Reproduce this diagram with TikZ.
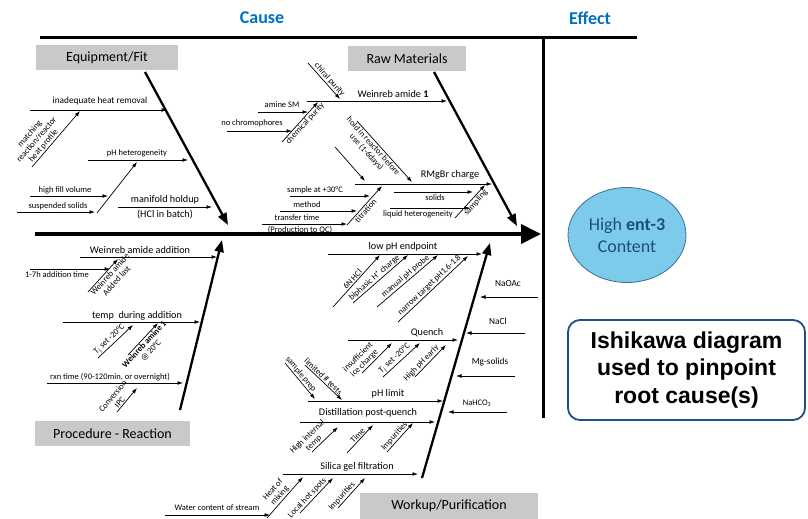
\documentclass[tikz,border=0pt]{standalone}
\usepackage{fontspec}
\setmainfont{Carlito}
\newfontfamily\arialfont{Liberation Sans}
\usetikzlibrary{arrows.meta,shapes.geometric}
\definecolor{causeblue}{HTML}{0070C0}
\definecolor{catgray}{HTML}{C9C9C9}
\definecolor{ellfill}{HTML}{7CCBEB}
\definecolor{ellline}{HTML}{3E6E8E}
\definecolor{elltext}{HTML}{1F4E79}
\definecolor{boxline}{HTML}{1F4E8C}
\begin{document}
\begin{tikzpicture}[x=1pt,y=-1pt,
  sub/.style={line width=0.7pt,-{Latex[length=5.5pt,width=3.8pt]}},
  bone/.style={line width=2.3pt,-{Triangle[length=12pt,width=9pt]}},
  sm/.style={font=\fontsize{8.5}{9}\selectfont,inner sep=1pt},
  ms/.style={font=\fontsize{9.3}{10}\selectfont,inner sep=1pt},
  md/.style={font=\fontsize{10.2}{11}\selectfont,inner sep=1pt},
  cat/.style={fill=catgray,font=\fontsize{14}{15}\selectfont,minimum height=25pt,inner sep=0pt},
  ttl/.style={font=\fontsize{18}{20}\selectfont\bfseries,text=causeblue}]
\useasboundingbox (0,0) rectangle (808,519);

% titles and frame
\node[ttl] (cause) at (262,18) {Cause};
\node[ttl] (effect) at (590,18) {Effect};
\draw[line width=3pt] (40,38) coordinate (hl) -- (637,38) coordinate (hr);
\draw[line width=3pt] (543,38) coordinate (vt) -- (543,418) coordinate (vb);
\draw[line width=4pt,-{Triangle[length=20pt,width=19pt]}] (35,234) coordinate (sp1) -- (541,234) coordinate (sp2);

% effect
\node[ellipse,draw=ellline,line width=0.8pt,fill=ellfill,minimum width=118pt,minimum height=95pt,
  text=elltext,align=center,font=\fontsize{18}{22}\selectfont,inner sep=0pt] (eff) at (627,235)
  {High \textbf{ent-3}\\Content};
\node[draw=boxline,line width=1.8pt,rounded corners=12pt,minimum width=237pt,minimum height=100pt,
  align=center,font=\arialfont\bfseries\fontsize{23}{27.5}\selectfont] (note) at (686.5,370)
  {Ishikawa diagram\\used to pinpoint\\root cause(s)};

% category boxes
\node[cat,minimum width=142pt] (equip) at (107,57.5) {Equipment/Fit};
\node[cat,minimum width=118pt] (raw) at (407,58.5) {Raw Materials};
\node[cat,minimum width=155pt] (proc) at (112.5,433.5) {Procedure - Reaction};
\node[cat,minimum width=178pt,minimum height=26pt] (work) at (449,506) {Workup/Purification};

% main bones
\draw[bone] (145,72) coordinate (be1) -- (228,225) coordinate (be2);
\draw[bone] (434,72) coordinate (br1) -- (517,226) coordinate (br2);
\draw[bone] (180,410) coordinate (bp1) -- (222,240) coordinate (bp2);
\draw[bone] (422,478) coordinate (bw1) -- (490,243) coordinate (bw2);

% ===== Equipment/Fit =====
\draw[sub] (30,110) coordinate (e1a) -- (167,110) coordinate (e1b);
\node[ms] (t_e1) at (100,101) {inadequate heat removal};
\draw[sub] (32,167) coordinate (e2a) -- (80,111) coordinate (e2b)
  node[sm,sloped,above,pos=0.32,align=center] (t_e2) {matching\\reaction/reactor\\heat profile};
\draw[sub] (88,160) coordinate (e3a) -- (188,160) coordinate (e3b);
\node[sm] (t_e3) at (137,153) {pH heterogeneity};
\draw[sub] (97,213) coordinate (e4a) -- (137,162) coordinate (e4b);
\draw[sub] (30,196) coordinate (e5a) -- (108,196) coordinate (e5b);
\node[sm] (t_e5) at (65,190) {high fill volume};
\draw[sub] (17,212) coordinate (e6a) -- (95,212) coordinate (e6b);
\node[sm] (t_e6) at (58,206) {suspended solids};
\draw[sub] (118,207) coordinate (e7a) -- (212,207) coordinate (e7b);
\node[md] (t_e7) at (165,200) {manifold holdup};
\node[md] (t_e7b) at (165,214) {(HCl in batch)};

% ===== Raw Materials =====
\draw[sub] (307,101) coordinate (r1a) -- (447,101) coordinate (r1b);
\node[md] (t_r1) at (393,93.5) {Weinreb amide \textbf{1}};
\draw[sub] (308,63) coordinate (r2a) -- (340,99) coordinate (r2b)
  node[sm,sloped,above,pos=0.56] (t_r2) {chiral purity};
\draw[sub] (282,142) coordinate (r3a) -- (318,102) coordinate (r3b)
  node[sm,sloped,below,pos=0.54] (t_r3) {chemical purity};
\draw[sub] (258,112) coordinate (r4a) -- (308,112) coordinate (r4b);
\node[sm] (t_r4) at (282,105) {amine SM};
\draw[sub] (227,131) coordinate (r5a) -- (292,131) coordinate (r5b);
\node[sm] (t_r5) at (252,123) {no chromophores};
\draw[sub] (355,184) coordinate (r6a) -- (492,184) coordinate (r6b);
\node[md] (t_r6) at (450,175) {RMgBr charge};
\draw[sub] (357,121) coordinate (r7a) -- (412,182) coordinate (r7b)
  node[sm,sloped,below,pos=0.36,align=center] (t_r7) {hold in reactor before\\use (1-6days)};
\draw[sub] (335,147) coordinate (r8a) -- (365,181) coordinate (r8b);
\draw[sub] (347,225) coordinate (r9a) -- (382,186) coordinate (r9b)
  node[sm,sloped,below,pos=0.44] (t_r9) {titration};
\draw[sub] (290,196) coordinate (r10a) -- (370,196) coordinate (r10b);
\node[sm] (t_r10) at (315,190) {sample at +30°C};
\draw[sub] (280,211) coordinate (r11a) -- (357,211) coordinate (r11b);
\node[sm] (t_r11) at (307,205) {method};
\draw[sub] (262,224) coordinate (r12a) -- (347,224) coordinate (r12b);
\node[sm] (t_r12) at (297,218) {transfer time};
\node[sm] (t_r12b) at (300,229.5) {(Production to QC)};
\draw[sub] (394,192) coordinate (r13a) -- (473,192) coordinate (r13b);
\node[sm] (t_r13) at (435,198) {solids};
\draw[sub] (390,208) coordinate (r14a) -- (470,208) coordinate (r14b);
\node[sm] (t_r14) at (418,214) {liquid heterogeneity};
\draw[sub] (455,218) coordinate (r15a) -- (485,185) coordinate (r15b)
  node[sm,sloped,below,pos=0.57] (t_r15) {sampling};

% ===== Procedure - Reaction =====
\draw[sub] (80,257) coordinate (p1a) -- (217,257) coordinate (p1b);
\node[md] (t_p1) at (140,250) {Weinreb amide addition};
\draw[sub] (30,269) coordinate (p2a) -- (110,269) coordinate (p2b);
\node[sm] (t_p2) at (57,275) {1-7h addition time};
\draw[sub] (88,292) coordinate (p3a) -- (118,259) coordinate (p3b)
  node[sm,sloped,below,pos=0.62,align=center] (t_p3) {Weinreb amide\\Added last};
\draw[sub] (63,322) coordinate (p4a) -- (200,322) coordinate (p4b);
\node[md] (t_p4) at (137,316) {temp\ \ during addition};
\draw[sub] (98,358) coordinate (p5a) -- (133,325) coordinate (p5b)
  node[sm,sloped,above,pos=0.44] (t_p5) {T\textsubscript{j} set -20°C};
\draw[sub] (128,355) coordinate (p6a) -- (158,323) coordinate (p6b)
  node[sm,sloped,below,pos=0.43,align=center] (t_p6) {\textbf{Weinreb amine 1}\\@ 20°C};
\draw[sub] (47,383) coordinate (p7a) -- (183,383) coordinate (p7b);
\node[sm] (t_p7) at (110,377) {rxn time (90-120min, or overnight)};
\draw[sub] (117,412) coordinate (p8a) -- (137,388) coordinate (p8b)
  node[sm,sloped,above,pos=0.3,align=center] (t_p8) {Conversion\\IPC};

% ===== Workup/Purification =====
\draw[sub] (328,254) coordinate (w1a) -- (482,254) coordinate (w1b);
\node[md] (t_w1) at (403,247) {low pH endpoint};
\draw[sub] (333,307) coordinate (w2a) -- (380,255) coordinate (w2b)
  node[sm,sloped,above,pos=0.48] (t_w2) {6N HCl};
\draw[sub] (353,303) coordinate (w3a) -- (408,255) coordinate (w3b)
  node[sm,sloped,above,pos=0.45] (t_w3) {biphasic H\textsuperscript{+} charge};
\draw[sub] (377,307) coordinate (w4a) -- (438,255) coordinate (w4b)
  node[sm,sloped,above,pos=0.52] (t_w4) {manual pH probe};
\draw[sub] (398,322) coordinate (w5a) -- (468,256) coordinate (w5b)
  node[sm,sloped,above,pos=0.5] (t_w5) {narrow target pH1.6-1.8};
\draw[sub] (538,297) coordinate (w6a) -- (480,297) coordinate (w6b);
\node[ms] (t_w6) at (508,284) {NaOAc};
\draw[sub] (525,333) coordinate (w7a) -- (466,333) coordinate (w7b);
\node[ms] (t_w7) at (498,321) {NaCl};
\draw[sub] (515,376) coordinate (w8a) -- (456,376) coordinate (w8b);
\node[ms] (t_w8) at (490,362) {Mg-solids};
\draw[sub] (507,412) coordinate (w9a) -- (448,412) coordinate (w9b);
\node[sm] (t_w9) at (477,403) {NaHCO\textsubscript{3}};
\draw[sub] (348,340) coordinate (w10a) -- (458,340) coordinate (w10b);
\node[md] (t_w10) at (427,333) {Quench};
\draw[sub] (362,373) coordinate (w11a) -- (392,343) coordinate (w11b)
  node[sm,sloped,above,pos=0.2,align=center] (t_w11) {insufficient\\ice charge};
\draw[sub] (383,377) coordinate (w12a) -- (420,343) coordinate (w12b)
  node[sm,sloped,above,pos=0.42] (t_w12) {T\textsubscript{j} set -20°C};
\draw[sub] (415,377) coordinate (w13a) -- (446,345) coordinate (w13b)
  node[sm,sloped,above,pos=0.32] (t_w13) {High pH early};
\draw[sub] (308,401) coordinate (w14a) -- (443,401) coordinate (w14b);
\node[md] (t_w14) at (388,394) {pH limit};
\draw[sub] (285,363) coordinate (w15a) -- (315,399) coordinate (w15b)
  node[sm,sloped,above,pos=0.4] (t_w15) {sample prep};
\draw[sub] (305,365) coordinate (w16a) -- (342,400) coordinate (w16b)
  node[sm,sloped,above,pos=0.42] (t_w16) {limited \# tests};
\draw[sub] (300,422) coordinate (w17a) -- (435,422) coordinate (w17b);
\node[md] (t_w17) at (368,413) {Distillation post-quench};
\draw[sub] (312,452) coordinate (w18a) -- (338,427) coordinate (w18b)
  node[sm,sloped,above,pos=0.2,align=center] (t_w18) {High internal\\temp};
\draw[sub] (347,453) coordinate (w19a) -- (373,425) coordinate (w19b)
  node[sm,sloped,above,pos=0.53] (t_w19) {Time};
\draw[sub] (387,452) coordinate (w20a) -- (413,423) coordinate (w20b)
  node[sm,sloped,above,pos=0.43] (t_w20) {Impurities};
\draw[sub] (283,474) coordinate (w21a) -- (418,474) coordinate (w21b);
\node[md] (t_w21) at (357,467) {Silica gel filtration};
\draw[sub] (165,515) coordinate (w22a) -- (270,515) coordinate (w22b);
\node[sm] (t_w22) at (217,508) {Water content of stream};
\draw[sub] (267,518) coordinate (w23a) -- (303,477) coordinate (w23b)
  node[sm,sloped,above,pos=0.46,align=center] (t_w23) {Heat of\\mixing};
\draw[sub] (300,513) coordinate (w24a) -- (333,478) coordinate (w24b)
  node[sm,sloped,above,pos=0.33] (t_w24) {Local hot spots};
\draw[sub] (338,508) coordinate (w25a) -- (365,478) coordinate (w25b)
  node[sm,sloped,above,pos=0.28] (t_w25) {Impurities};
\end{tikzpicture}
\end{document}
